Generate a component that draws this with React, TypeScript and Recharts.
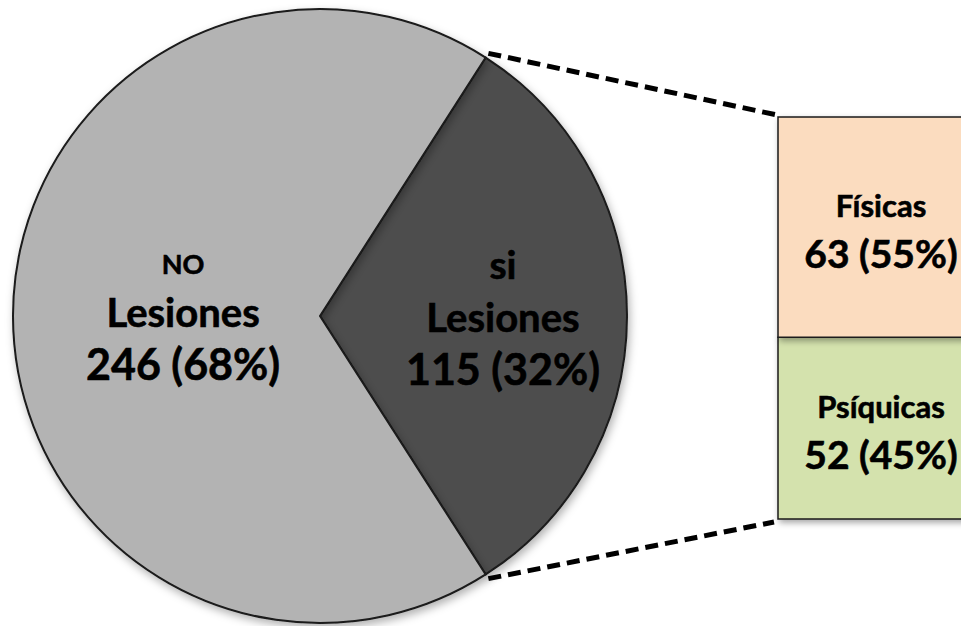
import React from 'react';
import { PieChart, Pie, Cell, BarChart, Bar, XAxis, YAxis, LabelList } from 'recharts';

// main pie
const categories = ['si', 'NO'];
const values = [115, 246];
const sliceColors = ['#4d4d4d', '#b3b3b3'];

// breakdown of "si" in the stacked bar (bottom to top)
const subCategories = ['Psíquicas', 'Físicas'];
const subValues = [52, 63];
const subColors = ['#d4e2ad', '#fbdcbf'];

const W = 961;
const H = 626;
const PIE_CX = 320;
const PIE_CY = 316;
const PIE_R = 307;
const BAR_LEFT = 778;
const BAR_TOP = 117;
const BAR_BOTTOM = 519;
const BAR_CHART_W = 984;

const FONT = 'Lato, "Open Sans", sans-serif';
const LABEL_RADIUS = [0.596, 0.446];
const FIRST_LINE_SIZE = [39, 27];
const LABEL_SHIFT = [3, -2];

const total = values.reduce((a, b) => a + b, 0);
const subTotal = subValues.reduce((a, b) => a + b, 0);
const pct = (v: number, t: number) => Math.round((v / t) * 100);

const pieData = categories.map((c, i) => ({ name: c, value: values[i] }));
const barRow: Record<string, string | number> = { name: 'Lesiones' };
subCategories.forEach((c, i) => {
  barRow[c] = subValues[i];
});
const barData = [barRow];

const halfAngle = (values[0] / total) * 180;
const RAD = Math.PI / 180;

// bold text, slightly thickened to look like the original heavy face
const txt = { textAnchor: 'middle' as const, fontWeight: 700, fontFamily: FONT, fill: '#000', stroke: '#000', strokeWidth: 0.6 };

function PieLabel(props: any) {
  const { cx, cy, midAngle, outerRadius, index, startAngle, endAngle } = props;
  const r = outerRadius * LABEL_RADIUS[index];
  const x = cx + r * Math.cos(-midAngle * RAD);
  const y = cy + r * Math.sin(-midAngle * RAD) + LABEL_SHIFT[index];
  const lines: React.ReactNode[] = [
    <text key="a" x={x} y={y - 40} fontSize={FIRST_LINE_SIZE[index]} {...txt}>
      {categories[index]}
    </text>,
    <text key="b" x={x} y={y + 13} fontSize={40} {...txt}>
      Lesiones
    </text>,
    <text key="c" x={x} y={y + 66} fontSize={43} {...txt}>
      {`${values[index]} (${pct(values[index], total)}%)`}
    </text>,
  ];
  if (index === 0) {
    // connector lines from the slice edges to the stacked bar corners
    const rr = outerRadius + 5;
    const p1 = { x: cx + rr * Math.cos(-startAngle * RAD), y: cy + rr * Math.sin(-startAngle * RAD) };
    const p2 = { x: cx + rr * Math.cos(-endAngle * RAD), y: cy + rr * Math.sin(-endAngle * RAD) };
    lines.push(
      <line key="l1" x1={p1.x} y1={p1.y} x2={BAR_LEFT - 1} y2={BAR_TOP - 2} stroke="#000" strokeWidth={5} strokeDasharray="13 7" />,
      <line key="l2" x1={p2.x} y1={p2.y} x2={BAR_LEFT - 4} y2={BAR_BOTTOM + 3} stroke="#000" strokeWidth={5} strokeDasharray="13 7" />
    );
  }
  return <g>{lines}</g>;
}

function BarLabel(props: any) {
  const { x, y, width, height, name, value } = props;
  const cxl = x + width / 2;
  const cyl = y + height / 2;
  return (
    <g>
      <text x={cxl} y={cyl - 10} fontSize={31} {...txt}>
        {name}
      </text>
      <text x={cxl} y={cyl + 41} fontSize={39} {...txt}>
        {`${value} (${pct(value, subTotal)}%)`}
      </text>
    </g>
  );
}

export default function App() {
  return (
    <div style={{ position: 'relative', width: W, height: H, overflow: 'hidden', background: '#fff' }}>
      <style>{'body{margin:0}'}</style>
      <div style={{ position: 'absolute', left: 0, top: 0 }}>
        <BarChart
          width={BAR_CHART_W}
          height={H}
          data={barData}
          barCategoryGap={0}
          margin={{ top: BAR_TOP, right: 0, bottom: H - BAR_BOTTOM, left: BAR_LEFT }}
        >
          <defs>
            <filter id="barShadow" x="-10%" y="-10%" width="130%" height="130%">
              <feDropShadow dx="2" dy="3" stdDeviation="3" floodColor="#000" floodOpacity="0.35" />
            </filter>
          </defs>
          <XAxis dataKey="name" hide />
          <YAxis hide domain={[0, subTotal]} />
          {subCategories.map((c, i) => (
            <Bar
              key={c}
              dataKey={c}
              stackId="s"
              fill={subColors[i]}
              stroke="#1a1a1a"
              strokeWidth={1.5}
              isAnimationActive={false}
              style={{ filter: 'url(#barShadow)' }}
            >
              <LabelList content={(p: any) => <BarLabel {...p} name={c} value={subValues[i]} />} />
            </Bar>
          ))}
        </BarChart>
      </div>
      <div style={{ position: 'absolute', left: 0, top: 0 }}>
        <PieChart width={W} height={H} margin={{ top: 0, right: 0, bottom: 0, left: 0 }}>
          <defs>
            <filter id="pieShadow" x="-10%" y="-10%" width="130%" height="130%">
              <feDropShadow dx="2" dy="4" stdDeviation="4" floodColor="#000" floodOpacity="0.3" />
            </filter>
          </defs>
          <Pie
            data={pieData}
            dataKey="value"
            nameKey="name"
            cx={PIE_CX}
            cy={PIE_CY}
            outerRadius={PIE_R}
            startAngle={halfAngle}
            endAngle={halfAngle - 360}
            stroke="#1a1a1a"
            strokeWidth={2}
            label={PieLabel}
            labelLine={false}
            isAnimationActive={false}
            style={{ filter: 'url(#pieShadow)' }}
          >
            {pieData.map((d, i) => (
              <Cell key={d.name} fill={sliceColors[i]} />
            ))}
          </Pie>
        </PieChart>
      </div>
    </div>
  );
}
